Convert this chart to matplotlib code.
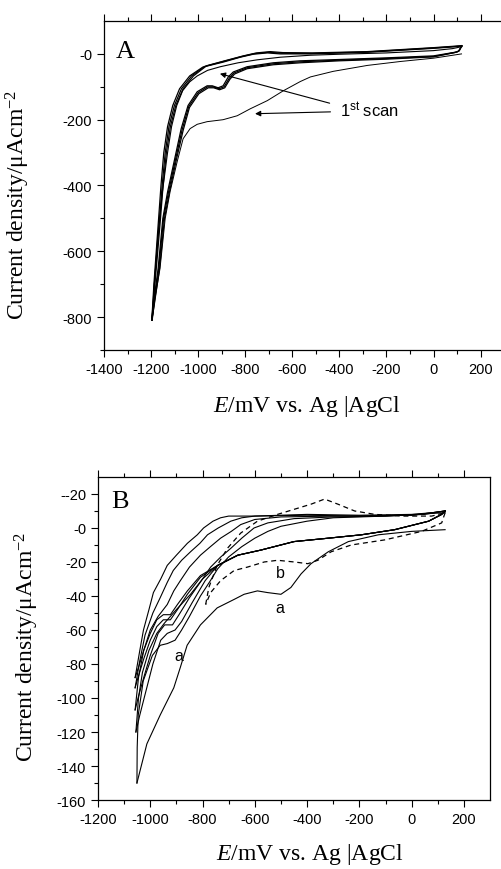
import numpy as np
import matplotlib.pyplot as plt

plt.rcParams['font.family'] = ['Liberation Sans', 'DejaVu Sans']
plt.rcParams['mathtext.fontset'] = 'custom'
plt.rcParams['mathtext.rm'] = 'Liberation Serif'
plt.rcParams['mathtext.it'] = 'Liberation Serif:italic'
plt.rcParams['mathtext.sf'] = 'Liberation Sans'

# ---------------- Panel A data (E in mV, j in uA/cm2) ----------------
# first scan, cathodic sweep
a1_fwd = [(119, 0), (0, -13), (-140, -23), (-281, -35), (-426, -53), (-523, -70), (-566, -84),
          (-638, -112), (-706, -142), (-779, -167), (-834, -188), (-894, -200), (-962, -206),
          (-1004, -214), (-1034, -227), (-1064, -258), (-1089, -327), (-1119, -418),
          (-1140, -500), (-1162, -652), (-1183, -742), (-1195, -810)]
a1_rev = [(-1195, -810), (-1186, -700), (-1172, -560), (-1152, -420), (-1130, -300),
          (-1113, -221), (-1091, -157), (-1066, -112), (-1036, -85), (-1004, -67), (-960, -50),
          (-906, -39), (-830, -27), (-749, -18), (-650, -10), (-523, -4), (-400, -1),
          (-200, 3), (0, 10), (80, 16), (120, 22)]

# later cycles, cathodic sweeps
a_fwd_cycles = [
    [(120, 24), (110, 10), (100, 6), (0, -6), (-200, -12), (-400, -17), (-566, -21), (-681, -27),
     (-792, -39), (-851, -55), (-872, -70), (-894, -97), (-915, -103), (-940, -97), (-962, -97),
     (-1004, -115), (-1043, -157), (-1072, -227), (-1100, -320), (-1130, -420), (-1150, -500),
     (-1170, -652), (-1190, -760), (-1197, -810)],
    [(120, 24), (108, 9), (95, 5), (0, -8), (-200, -14), (-400, -19), (-566, -24), (-681, -30),
     (-792, -42), (-848, -58), (-868, -74), (-890, -100), (-912, -106), (-937, -100), (-960, -100),
     (-1000, -118), (-1040, -160), (-1068, -230), (-1096, -320), (-1126, -420), (-1147, -500),
     (-1167, -652), (-1188, -760), (-1196, -805)],
    [(120, 25), (106, 8), (90, 4), (0, -9), (-200, -16), (-400, -21), (-566, -27), (-681, -33),
     (-792, -45), (-845, -61), (-865, -77), (-887, -103), (-909, -109), (-934, -103), (-957, -103),
     (-997, -121), (-1037, -163), (-1064, -233), (-1092, -320), (-1122, -420), (-1143, -500),
     (-1164, -652), (-1186, -760), (-1195, -800)],
]
# later cycles, anodic sweeps
a_rev_cycles = [
    [(-1197, -810), (-1188, -700), (-1180, -620), (-1168, -500), (-1158, -400), (-1146, -300),
     (-1130, -221), (-1108, -157), (-1079, -106), (-1036, -67), (-980, -40), (-894, -25),
     (-821, -10), (-766, -1), (-706, 3), (-651, 0), (-523, 0), (-281, 5), (0, 17), (60, 20),
     (120, 24)],
    [(-1196, -805), (-1186, -700), (-1177, -620), (-1164, -500), (-1153, -400), (-1140, -300),
     (-1124, -221), (-1101, -157), (-1071, -106), (-1028, -67), (-972, -38), (-888, -22),
     (-815, -8), (-760, 1), (-700, 5), (-645, 2), (-520, 1.5), (-281, 6), (0, 18), (60, 21),
     (120, 24)],
    [(-1195, -800), (-1184, -700), (-1174, -620), (-1160, -500), (-1149, -400), (-1135, -300),
     (-1118, -221), (-1095, -157), (-1064, -106), (-1020, -67), (-964, -36), (-882, -20),
     (-808, -6), (-752, 3), (-694, 7), (-640, 4), (-515, 3), (-281, 7), (0, 19), (60, 22),
     (120, 25)],
]

# ---------------- Panel B data ----------------
# curve a (first scan)
ba_fwd = [(128, -1), (0, -2), (-127, -4), (-242, -8), (-319, -14), (-385, -21), (-423, -27),
          (-462, -35), (-500, -39), (-551, -38), (-590, -37), (-641, -39), (-679, -42),
          (-744, -47), (-808, -57), (-859, -69), (-885, -82), (-910, -94), (-962, -110),
          (-1013, -127), (-1051, -150)]
ba_rev = [(-1051, -150), (-1050, -129), (-1046, -110), (-1027, -90), (-992, -75), (-962, -69),
          (-935, -68), (-905, -66), (-880, -60), (-850, -52), (-808, -40), (-770, -31),
          (-742, -24), (-700, -17), (-650, -11), (-600, -6), (-550, -2), (-500, 1), (-400, 4),
          (-300, 6), (-100, 7), (128, 9)]

# curve b (dashed, reversed at -800 mV)
bb_fwd = [(128, 9), (115, 3), (38, -2), (-103, -7), (-231, -10), (-308, -14), (-359, -19),
          (-397, -21), (-449, -20), (-513, -19), (-564, -20), (-628, -23), (-679, -25),
          (-731, -31), (-769, -38), (-788, -45)]
bb_rev = [(-788, -45), (-776, -35), (-744, -22), (-705, -12), (-654, -3), (-590, 4), (-513, 8),
          (-449, 11), (-385, 14), (-333, 17), (-282, 14), (-218, 10), (-141, 8), (-38, 7),
          (77, 7), (128, 9)]

# later cycles
b_fwd_cycles = [
    [(128, 10), (115, 8), (65, 4), (-65, -1), (-192, -4), (-319, -6), (-450, -8), (-577, -13),
     (-665, -16), (-742, -22), (-808, -28), (-858, -37), (-896, -45), (-923, -51), (-950, -51),
     (-975, -54), (-1000, -62), (-1025, -72), (-1045, -82), (-1058, -88)],
    [(128, 10), (115, 8), (65, 4), (-65, -1), (-192, -4), (-319, -6), (-450, -8), (-577, -13),
     (-665, -16), (-742, -22), (-808, -29), (-858, -39), (-896, -48), (-923, -54), (-950, -54),
     (-975, -58), (-1000, -66), (-1025, -77), (-1045, -87), (-1058, -94)],
    [(128, 10), (115, 8), (65, 4), (-65, -1), (-192, -4), (-319, -6), (-450, -8), (-577, -13),
     (-665, -16), (-742, -22), (-800, -30), (-850, -41), (-890, -51), (-915, -57), (-945, -57),
     (-970, -62), (-1000, -75), (-1025, -88), (-1045, -99), (-1058, -107)],
    [(128, 10), (115, 8), (65, 4), (-65, -1), (-192, -4), (-319, -6), (-450, -8), (-577, -13),
     (-665, -16), (-742, -22), (-790, -31), (-840, -44), (-880, -55), (-905, -60), (-935, -62),
     (-960, -66), (-990, -80), (-1015, -95), (-1040, -110), (-1055, -120)],
]
b_rev_cycles = [
    [(-1058, -88), (-1040, -72), (-1026, -60), (-1005, -48), (-988, -38), (-960, -30),
     (-935, -22), (-900, -16), (-858, -9), (-820, -4), (-796, 0), (-760, 4), (-731, 6),
     (-700, 7), (-600, 7), (-400, 8), (-200, 7.5), (0, 8), (80, 9), (128, 10)],
    [(-1058, -94), (-1040, -78), (-1020, -63), (-990, -50), (-962, -41), (-935, -32),
     (-912, -25), (-880, -19), (-846, -14), (-810, -9), (-781, -4), (-740, 0), (-692, 4),
     (-650, 6), (-600, 7), (-400, 7.5), (-200, 7), (0, 7.5), (80, 9), (128, 10)],
    [(-1058, -107), (-1045, -88), (-1025, -72), (-1000, -60), (-970, -52), (-935, -45),
     (-910, -37), (-885, -31), (-850, -23), (-808, -16), (-770, -11), (-731, -6), (-690, -2),
     (-654, 2), (-600, 5), (-500, 6.5), (-300, 7), (0, 7.5), (80, 9), (128, 10)],
    [(-1055, -120), (-1045, -100), (-1030, -85), (-1005, -72), (-975, -62), (-946, -56),
     (-900, -48), (-846, -39), (-800, -30), (-769, -23), (-730, -17), (-692, -12), (-650, -6),
     (-603, 0), (-550, 3), (-450, 5.5), (-300, 6.5), (-100, 7), (50, 8), (128, 10)],
]

# axis ticks / labels
a_xticks = [-1400, -1200, -1000, -800, -600, -400, -200, 0, 200]
a_yticks = [0, -200, -400, -600, -800]
a_ylabels = ['-0', '-200', '-400', '-600', '-800']
b_xticks = [-1200, -1000, -800, -600, -400, -200, 0, 200]
b_yticks = [20, 0, -20, -40, -60, -80, -100, -120, -140, -160]
b_ylabels = ['--20', '-0', '-20', '-40', '-60', '-80', '-100', '-120', '-140', '-160']

ylab = 'Current density/μAcm$^{-2}$'
xlab = '$E$/mV vs. Ag |AgCl'
serif = ['Liberation Serif', 'DejaVu Serif']


def draw(ax, pts, **kw):
    xy = np.array(pts, dtype=float)
    ax.plot(xy[:, 0], xy[:, 1], color='black', **kw)


def style(ax, xticks, yticks, ylabels, xminor, yminor):
    ax.set_xticks(xticks)
    ax.set_xticklabels([str(t) for t in xticks])
    ax.set_yticks(yticks)
    ax.set_yticklabels(ylabels)
    ax.set_xticks(xminor, minor=True)
    ax.set_yticks(yminor, minor=True)
    ax.tick_params(which='both', direction='out', top=True, right=False, labelsize=10.5)
    ax.tick_params(which='major', length=5, width=0.8)
    ax.tick_params(which='minor', length=3, width=0.8)
    for s in ax.spines.values():
        s.set_linewidth(0.9)


fig = plt.figure(figsize=(5.02, 8.70), dpi=100)

# ---------------- Panel A ----------------
axA = fig.add_axes([0.2072, 0.5966, 0.797, 0.3781])
draw(axA, a1_fwd, lw=0.7)
draw(axA, a1_rev, lw=0.8)
for c in a_fwd_cycles:
    draw(axA, c, lw=0.9)
for c in a_rev_cycles:
    draw(axA, c, lw=0.9)
axA.set_xlim(-1400, 300)
axA.set_ylim(-900, 100)
style(axA, a_xticks, a_yticks, a_ylabels, np.arange(-1300, 300, 200), np.arange(-900, 100, 200))
axA.spines['right'].set_visible(False)
axA.set_ylabel(ylab, family=serif, fontsize=17)
axA.set_xlabel(xlab, family=serif, fontsize=17)
axA.yaxis.set_label_coords(-0.18, 0.444)
axA.xaxis.set_label_coords(0.507, -0.13)
axA.text(-1350, 10, 'A', family=serif, fontsize=19, va='center')
axA.text(-396, -168, r'$\mathsf{1^{st}\ scan}$', fontsize=12, va='center')
axA.annotate('', xy=(-919, -58), xytext=(-430, -152),
             arrowprops=dict(arrowstyle='-|>', lw=0.8, color='black', mutation_scale=8))
axA.annotate('', xy=(-770, -182), xytext=(-426, -176),
             arrowprops=dict(arrowstyle='-|>', lw=0.8, color='black', mutation_scale=8))

# ---------------- Panel B ----------------
axB = fig.add_axes([0.1952, 0.0793, 0.781, 0.3713])
draw(axB, ba_fwd, lw=0.8)
draw(axB, ba_rev, lw=0.8)
draw(axB, bb_fwd, lw=0.9, ls=(0, (4, 3)))
draw(axB, bb_rev, lw=0.9, ls=(0, (4, 3)))
for c in b_fwd_cycles:
    draw(axB, c, lw=0.8)
for c in b_rev_cycles:
    draw(axB, c, lw=0.8)
axB.set_xlim(-1200, 300)
axB.set_ylim(-160, 30)
style(axB, b_xticks, b_yticks, b_ylabels, np.arange(-1100, 300, 200), np.arange(-150, 30, 20))
axB.set_ylabel(ylab, family=serif, fontsize=17)
axB.set_xlabel(xlab, family=serif, fontsize=17)
axB.yaxis.set_label_coords(-0.145, 0.477)
axB.xaxis.set_label_coords(0.541, -0.128)
axB.text(-1150, 16, 'B', family=serif, fontsize=19, va='center')
axB.text(-503, -26, 'b', fontsize=11.5, ha='center', va='center')
axB.text(-503, -47, 'a', fontsize=11.5, ha='center', va='center')
axB.text(-891, -75, 'a', fontsize=11.5, ha='center', va='center')

fig.savefig('out.png', dpi=100)
